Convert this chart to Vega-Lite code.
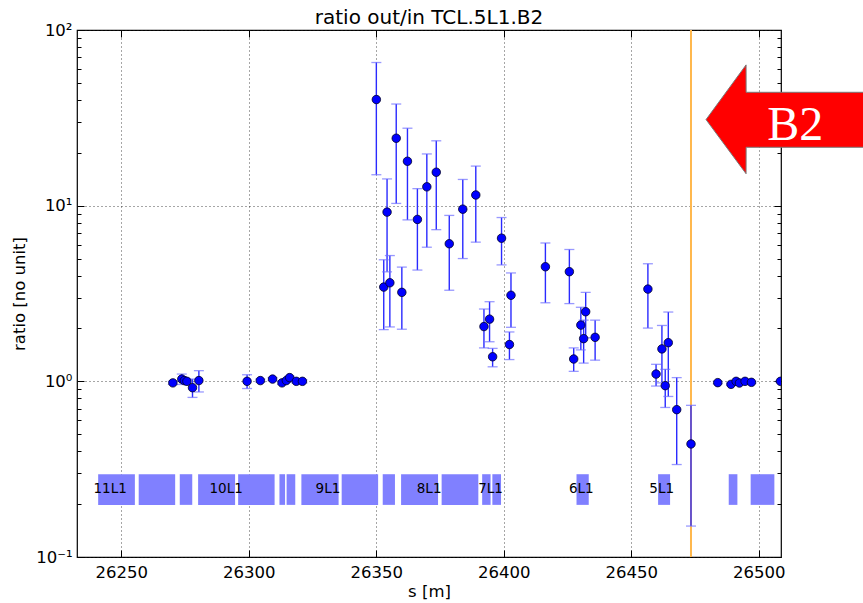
{
  "$schema": "https://vega.github.io/schema/vega-lite/v6.json",
  "width": 704,
  "height": 527,
  "autosize": "none",
  "padding": {"left": 77, "top": 30, "right": 82, "bottom": 46},
  "background": "white",
  "title": {
    "text": "ratio out/in TCL.5L1.B2",
    "font": "DejaVu Sans",
    "fontSize": 20,
    "fontWeight": "normal",
    "color": "black",
    "anchor": "middle",
    "offset": 3,
    "dy": 9
  },
  "config": {
    "font": "DejaVu Sans",
    "view": {"stroke": "black", "strokeWidth": 1.2},
    "axis": {
      "domain": false,
      "labelFont": "DejaVu Sans",
      "labelFontSize": 16.5,
      "labelColor": "black",
      "titleFont": "DejaVu Sans",
      "titleFontSize": 16.5,
      "titleFontWeight": "normal",
      "titleColor": "black",
      "gridColor": "#222222",
      "gridDash": [1, 3],
      "gridWidth": 1,
      "gridOpacity": 0.8,
      "tickColor": "black",
      "tickWidth": 1
    }
  },
  "datasets": {
    "meas": [
      {"s": 26270.2, "ratio": 0.98, "lo": 0.96, "hi": 1.0},
      {"s": 26273.7, "ratio": 1.03, "lo": 0.96, "hi": 1.10},
      {"s": 26274.7, "ratio": 1.01, "lo": 0.98, "hi": 1.04},
      {"s": 26275.7, "ratio": 1.0, "lo": 0.98, "hi": 1.02},
      {"s": 26277.9, "ratio": 0.92, "lo": 0.81, "hi": 1.03},
      {"s": 26280.4, "ratio": 1.01, "lo": 0.87, "hi": 1.15},
      {"s": 26299.3, "ratio": 1.0, "lo": 0.91, "hi": 1.09},
      {"s": 26304.5, "ratio": 1.01, "lo": 0.99, "hi": 1.03},
      {"s": 26309.3, "ratio": 1.03, "lo": 1.01, "hi": 1.05},
      {"s": 26313.0, "ratio": 0.98, "lo": 0.96, "hi": 1.0},
      {"s": 26314.7, "ratio": 1.01, "lo": 0.99, "hi": 1.03},
      {"s": 26316.0, "ratio": 1.05, "lo": 1.03, "hi": 1.07},
      {"s": 26318.6, "ratio": 1.0, "lo": 0.98, "hi": 1.02},
      {"s": 26321.0, "ratio": 1.0, "lo": 0.98, "hi": 1.02},
      {"s": 26350.0, "ratio": 40.2, "lo": 15.0, "hi": 65.3},
      {"s": 26352.9, "ratio": 3.44, "lo": 1.97, "hi": 4.92},
      {"s": 26354.2, "ratio": 9.19, "lo": 4.2, "hi": 14.2},
      {"s": 26355.3, "ratio": 3.64, "lo": 2.04, "hi": 5.2},
      {"s": 26357.8, "ratio": 24.2, "lo": 10.3, "hi": 37.9},
      {"s": 26360.0, "ratio": 3.21, "lo": 1.98, "hi": 4.47},
      {"s": 26362.2, "ratio": 17.9, "lo": 8.3, "hi": 27.6},
      {"s": 26366.1, "ratio": 8.35, "lo": 4.3, "hi": 12.5},
      {"s": 26369.8, "ratio": 12.8, "lo": 5.8, "hi": 19.7},
      {"s": 26373.5, "ratio": 15.5, "lo": 7.3, "hi": 23.4},
      {"s": 26378.6, "ratio": 6.07, "lo": 3.3, "hi": 8.8},
      {"s": 26383.9, "ratio": 9.55, "lo": 5.0, "hi": 14.1},
      {"s": 26389.0, "ratio": 11.5, "lo": 6.2, "hi": 16.8},
      {"s": 26392.2, "ratio": 2.05, "lo": 1.55, "hi": 2.58},
      {"s": 26394.4, "ratio": 2.26, "lo": 1.68, "hi": 2.84},
      {"s": 26395.6, "ratio": 1.38, "lo": 1.21, "hi": 1.54},
      {"s": 26399.1, "ratio": 6.53, "lo": 4.6, "hi": 8.56},
      {"s": 26402.2, "ratio": 1.62, "lo": 1.33, "hi": 1.91},
      {"s": 26402.8, "ratio": 3.09, "lo": 2.03, "hi": 4.14},
      {"s": 26416.3, "ratio": 4.49, "lo": 2.8, "hi": 6.13},
      {"s": 26425.7, "ratio": 4.21, "lo": 2.77, "hi": 5.63},
      {"s": 26427.4, "ratio": 1.34, "lo": 1.14, "hi": 1.55},
      {"s": 26430.2, "ratio": 2.09, "lo": 1.51, "hi": 2.64},
      {"s": 26431.3, "ratio": 1.75, "lo": 1.27, "hi": 2.23},
      {"s": 26432.1, "ratio": 2.49, "lo": 1.77, "hi": 3.21},
      {"s": 26435.8, "ratio": 1.78, "lo": 1.32, "hi": 2.23},
      {"s": 26456.5, "ratio": 3.35, "lo": 2.01, "hi": 4.67},
      {"s": 26459.7, "ratio": 1.10, "lo": 0.94, "hi": 1.25},
      {"s": 26462.0, "ratio": 1.53, "lo": 0.98, "hi": 2.08},
      {"s": 26463.3, "ratio": 0.945, "lo": 0.71, "hi": 1.17},
      {"s": 26464.5, "ratio": 1.66, "lo": 0.82, "hi": 2.48},
      {"s": 26467.8, "ratio": 0.69, "lo": 0.336, "hi": 1.05},
      {"s": 26473.4, "ratio": 0.44, "lo": 0.15, "hi": 0.73},
      {"s": 26483.9, "ratio": 0.983, "lo": 0.97, "hi": 1.0},
      {"s": 26489.1, "ratio": 0.961, "lo": 0.95, "hi": 0.975},
      {"s": 26491.1, "ratio": 1.0, "lo": 0.99, "hi": 1.01},
      {"s": 26492.4, "ratio": 0.978, "lo": 0.97, "hi": 0.99},
      {"s": 26494.6, "ratio": 1.0, "lo": 0.99, "hi": 1.01},
      {"s": 26497.1, "ratio": 0.987, "lo": 0.975, "hi": 1.0},
      {"s": 26508.5, "ratio": 1.0, "lo": 0.99, "hi": 1.01}
    ],
    "elements": [
      {"s0": 26240.9, "s1": 26255.3, "y0": 0.198, "y1": 0.296},
      {"s0": 26256.8, "s1": 26271.1, "y0": 0.198, "y1": 0.296},
      {"s0": 26272.9, "s1": 26277.8, "y0": 0.198, "y1": 0.296},
      {"s0": 26280.1, "s1": 26294.6, "y0": 0.198, "y1": 0.296},
      {"s0": 26295.8, "s1": 26310.1, "y0": 0.198, "y1": 0.296},
      {"s0": 26312.0, "s1": 26314.2, "y0": 0.198, "y1": 0.296},
      {"s0": 26314.8, "s1": 26318.2, "y0": 0.198, "y1": 0.296},
      {"s0": 26320.6, "s1": 26335.2, "y0": 0.198, "y1": 0.296},
      {"s0": 26336.4, "s1": 26350.7, "y0": 0.198, "y1": 0.296},
      {"s0": 26352.5, "s1": 26357.3, "y0": 0.198, "y1": 0.296},
      {"s0": 26359.7, "s1": 26374.2, "y0": 0.198, "y1": 0.296},
      {"s0": 26375.6, "s1": 26390.0, "y0": 0.198, "y1": 0.296},
      {"s0": 26391.5, "s1": 26394.8, "y0": 0.198, "y1": 0.296},
      {"s0": 26395.5, "s1": 26398.9, "y0": 0.198, "y1": 0.296},
      {"s0": 26428.5, "s1": 26433.3, "y0": 0.198, "y1": 0.296},
      {"s0": 26460.5, "s1": 26465.2, "y0": 0.198, "y1": 0.296},
      {"s0": 26488.2, "s1": 26491.6, "y0": 0.198, "y1": 0.296},
      {"s0": 26496.8, "s1": 26506.1, "y0": 0.198, "y1": 0.296}
    ],
    "names": [
      {"s": 26245.6, "r": 0.243, "name": "11L1"},
      {"s": 26291.1, "r": 0.243, "name": "10L1"},
      {"s": 26331.0, "r": 0.243, "name": "9L1"},
      {"s": 26370.7, "r": 0.243, "name": "8L1"},
      {"s": 26394.8, "r": 0.243, "name": "7L1"},
      {"s": 26430.4, "r": 0.243, "name": "6L1"},
      {"s": 26461.9, "r": 0.243, "name": "5L1"}
    ],
    "collimator": [{"s": 26473.4}],
    "arrow": [
      {"s": 26479.3, "top": 30.9, "bot": 30.9},
      {"s": 26495.0, "top": 63.3, "bot": 15.2},
      {"s": 26495.02, "top": 44.2, "bot": 21.5},
      {"s": 26545.0, "top": 44.2, "bot": 21.5}
    ],
    "beam": [{"s": 26514.3, "r": 23.8, "text": "B2"}]
  },
  "layer": [
    {
      "data": {"name": "elements"},
      "mark": {"type": "rect", "color": "#8080ff", "clip": true},
      "encoding": {
        "x": {
          "field": "s0", "type": "quantitative",
          "scale": {"domain": [26232.6, 26508.7], "nice": false, "zero": false},
          "axis": {
            "orient": "bottom", "title": "s [m]", "values": [26250, 26300, 26350, 26400, 26450, 26500],
            "format": "d", "ticks": false, "grid": true, "labelPadding": 7, "titlePadding": 3
          }
        },
        "x2": {"field": "s1"},
        "y": {
          "field": "y0", "type": "quantitative",
          "scale": {"type": "log", "domain": [0.1, 100], "nice": false},
          "axis": {
            "orient": "left", "title": "ratio [no unit]", "values": [0.1, 1, 10, 100],
            "labelExpr": "datum.value < 0.5 ? '10⁻¹' : datum.value < 5 ? '10⁰' : datum.value < 50 ? '10¹' : '10²'",
            "ticks": false, "grid": true, "labelPadding": 5, "titlePadding": 8
          }
        },
        "y2": {"field": "y1"}
      }
    },
    {
      "data": {"name": "collimator"},
      "mark": {"type": "rule", "color": "#ffb84d", "strokeWidth": 2},
      "encoding": {
        "x": {
          "field": "s", "type": "quantitative",
          "axis": {
            "orient": "bottom", "title": null, "labels": false, "grid": false,
            "values": [26250, 26300, 26350, 26400, 26450, 26500], "ticks": true, "tickSize": -7
          }
        }
      }
    },
    {
      "data": {"name": "meas"},
      "mark": {"type": "rule", "color": "#2a2aff", "strokeWidth": 1.4, "clip": true},
      "encoding": {
        "x": {
          "field": "s", "type": "quantitative",
          "axis": {
            "orient": "top", "title": null, "labels": false, "grid": false,
            "values": [26250, 26300, 26350, 26400, 26450, 26500], "ticks": true, "tickSize": -7
          }
        },
        "y": {
          "field": "lo", "type": "quantitative",
          "axis": {
            "orient": "left", "title": null, "labels": false, "grid": false, "ticks": true, "tickSize": -4,
            "values": [0.2, 0.3, 0.4, 0.5, 0.6, 0.7, 0.8, 0.9, 2, 3, 4, 5, 6, 7, 8, 9, 20, 30, 40, 50, 60, 70, 80, 90]
          }
        },
        "y2": {"field": "hi"}
      }
    },
    {
      "data": {"name": "meas"},
      "mark": {"type": "tick", "orient": "horizontal", "color": "#6e6eff", "size": 10, "thickness": 1.3, "clip": true},
      "encoding": {
        "x": {"field": "s", "type": "quantitative", "axis": null},
        "y": {
          "field": "lo", "type": "quantitative",
          "axis": {
            "orient": "right", "title": null, "labels": false, "grid": false, "ticks": true, "tickSize": -4,
            "values": [0.2, 0.3, 0.4, 0.5, 0.6, 0.7, 0.8, 0.9, 2, 3, 4, 5, 6, 7, 8, 9, 20, 30, 40, 50, 60, 70, 80, 90]
          }
        }
      }
    },
    {
      "data": {"name": "meas"},
      "mark": {"type": "tick", "orient": "horizontal", "color": "#6e6eff", "size": 10, "thickness": 1.3, "clip": true},
      "encoding": {
        "x": {"field": "s", "type": "quantitative", "axis": null},
        "y": {
          "field": "hi", "type": "quantitative",
          "axis": {
            "orient": "left", "title": null, "labels": false, "grid": false, "ticks": true, "tickSize": -7,
            "values": [0.1, 1, 10, 100]
          }
        }
      }
    },
    {
      "data": {"name": "meas"},
      "mark": {"type": "circle", "color": "#0000ff", "opacity": 1, "stroke": "#000022", "strokeWidth": 0.8, "size": 72, "clip": true},
      "encoding": {
        "x": {"field": "s", "type": "quantitative", "axis": null},
        "y": {
          "field": "ratio", "type": "quantitative",
          "axis": {
            "orient": "right", "title": null, "labels": false, "grid": false, "ticks": true, "tickSize": -7,
            "values": [0.1, 1, 10, 100]
          }
        }
      }
    },
    {
      "data": {"name": "names"},
      "mark": {"type": "text", "font": "DejaVu Sans", "fontSize": 13.5, "color": "black", "align": "center", "baseline": "middle"},
      "encoding": {
        "x": {"field": "s", "type": "quantitative", "axis": null},
        "y": {"field": "r", "type": "quantitative", "axis": null},
        "text": {"field": "name"}
      }
    },
    {
      "data": {"name": "arrow"},
      "mark": {"type": "area", "orient": "vertical", "fill": "#ff0000", "fillOpacity": 1, "stroke": "#7a7a7a", "strokeWidth": 1, "clip": false},
      "encoding": {
        "x": {"field": "s", "type": "quantitative", "axis": null},
        "y": {"field": "top", "type": "quantitative", "axis": null, "stack": null},
        "y2": {"field": "bot"}
      }
    },
    {
      "data": {"name": "beam"},
      "mark": {"type": "text", "font": "Liberation Serif", "fontSize": 48, "color": "white", "align": "center", "baseline": "alphabetic", "clip": false},
      "encoding": {
        "x": {"field": "s", "type": "quantitative", "axis": null},
        "y": {"field": "r", "type": "quantitative", "axis": null},
        "text": {"field": "text"}
      }
    }
  ],
  "resolve": {"axis": {"x": "independent", "y": "independent"}}
}
